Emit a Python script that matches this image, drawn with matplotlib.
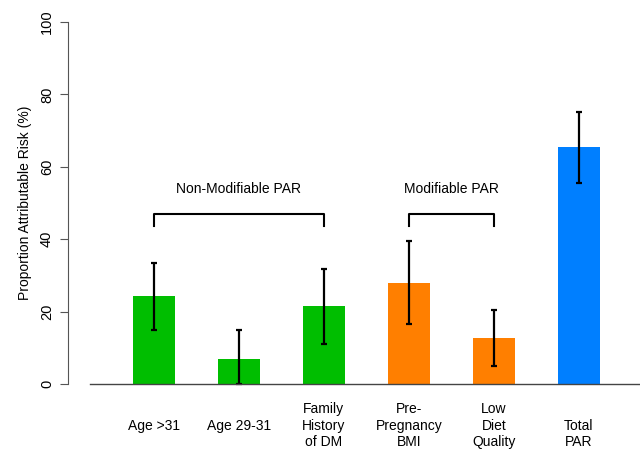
import matplotlib
matplotlib.use("Agg")
import matplotlib.pyplot as plt
import numpy as np

plt.rcParams['font.family'] = ['Liberation Sans', 'DejaVu Sans']

categories = ["Age >31", "Age 29-31", "Family\nHistory\nof DM", "Pre-\nPregnancy\nBMI", "Low\nDiet\nQuality", "Total\nPAR"]
values = [24.3, 6.9, 21.5, 27.9, 12.7, 65.5]
err_low = [14.9, 0.0, 11.0, 16.6, 5.0, 55.5]
err_high = [33.4, 14.9, 31.8, 39.5, 20.4, 75.1]
colors = ["#00BE00", "#00BE00", "#00BE00", "#FF7F00", "#FF7F00", "#007FFF"]
yticks = [0, 20, 40, 60, 80, 100]
groups = [("Non-Modifiable PAR", 0, 2), ("Modifiable PAR", 3, 4)]
bracket_y = 47
bracket_leg = 43.6
group_text_y = 54

fig = plt.figure(figsize=(6.4, 4.5), dpi=100)
ax = fig.add_axes([68/640, 66/450, 1 - 68/640, 362/450])

x = np.arange(1, len(values) + 1)
ax.bar(x, values, width=0.5, color=colors, edgecolor='none', zorder=2)
lo = np.array(values) - np.array(err_low)
hi = np.array(err_high) - np.array(values)
ax.errorbar(x, values, yerr=[lo, hi], fmt='none', ecolor='black', elinewidth=1.6,
            capsize=2.3, capthick=1.6, zorder=3, clip_on=False)

ax.set_xlim(-0.01, 6.72)
ax.set_ylim(0, 100)
ax.plot([0.25, 6.72], [0, 0], color='#444444', lw=1, zorder=4, clip_on=False)

for s in ['top', 'right', 'bottom']:
    ax.spines[s].set_visible(False)
ax.spines['left'].set_color('#555555')
ax.set_yticks(yticks)
ax.set_yticklabels([str(t) for t in yticks], rotation=90, va='center', fontsize=10.5)
ax.tick_params(axis='y', length=6, color='#555555', pad=4)
ax.set_xticks([])
ax.set_ylabel("Proportion Attributable Risk (%)", fontsize=10, labelpad=6)

for xi, lab in zip(x, categories):
    n = lab.count("\n") + 1
    txt = lab if n != 2 else "\n" + lab
    ax.text(xi, -11.5, txt, ha='center', va='center', fontsize=10,
            linespacing=1.2, clip_on=False)

for name, i0, i1 in groups:
    x0, x1 = x[i0], x[i1]
    ax.plot([x0, x0, x1, x1], [bracket_leg, bracket_y, bracket_y, bracket_leg],
            color='black', lw=1.5)
    ax.text((x0 + x1) / 2, group_text_y, name, ha='center', va='center', fontsize=10)

fig.savefig("out.png", dpi=100)
